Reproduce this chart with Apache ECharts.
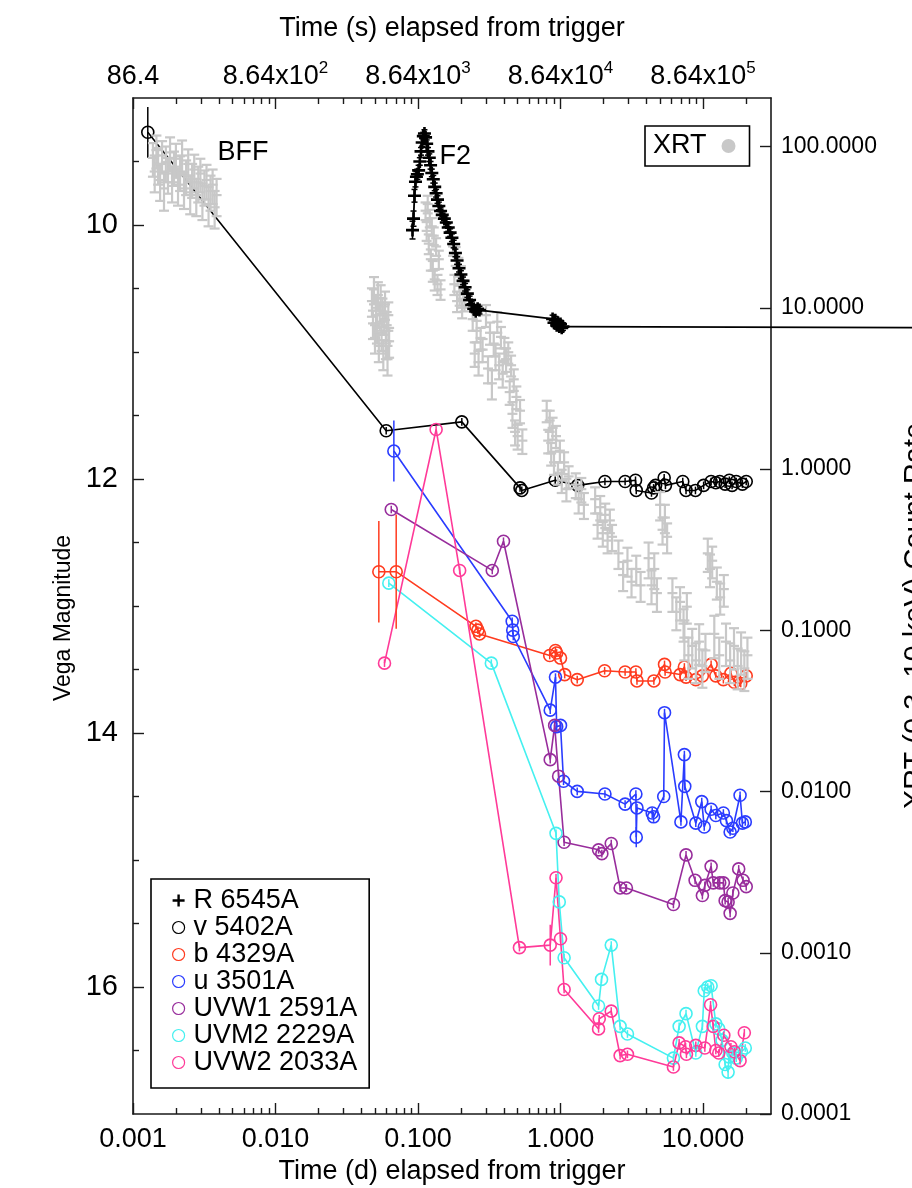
<!DOCTYPE html>
<html>
<head>
<meta charset="utf-8">
<script src="https://cdn.jsdelivr.net/npm/echarts@6/dist/echarts.min.js"></script>
<style>
  html, body { margin: 0; padding: 0; background: #ffffff; }
  #chart { width: 912px; height: 1188px; }
</style>
</head>
<body>
<div id="chart"></div>
<script>
// ---------------- axis ranges and tick labels ----------------
const dayRange = [0.001, 30];          // days since trigger (log axis)
const magRange = [9, 17];              // Vega magnitude (inverted)
const rateRange = [0.0001, 200];       // XRT count rate (log axis)

const dayTicks = [0.001, 0.01, 0.1, 1, 10];
const dayTickLabels = ['0.001', '0.010', '0.100', '1.000', '10.000'];
const secTickMantissa = ['86.4', '8.64x10', '8.64x10', '8.64x10', '8.64x10'];
const secTickPower = ['', '2', '3', '4', '5'];
const magTicks = [10, 12, 14, 16];
const magMinorTicks = [9.5, 10.5, 11, 11.5, 12.5, 13, 13.5, 14.5, 15, 15.5, 16.5];
const rateTicks = [0.0001, 0.001, 0.01, 0.1, 1, 10, 100];
const rateTickLabels = ['0.0001', '0.0010', '0.0100', '0.1000', '1.0000', '10.0000', '100.0000'];

// ---------------- photometry: [time (d), magnitude, error] ----------------
const rBand = [
  [0.0915, 10.04, 0.07], [0.0930, 9.95, 0.06], [0.0945, 9.77, 0.05], [0.0960, 9.66, 0.04],
  [0.0975, 9.62, 0.04], [0.0990, 9.60, 0.04], [0.1010, 9.57, 0.04], [0.1030, 9.50, 0.03],
  [0.1050, 9.42, 0.03], [0.1070, 9.35, 0.03], [0.1090, 9.30, 0.03], [0.1110, 9.28, 0.03],
  [0.1130, 9.31, 0.03], [0.1150, 9.36, 0.03], [0.1175, 9.42, 0.03], [0.1200, 9.47, 0.03],
  [0.1225, 9.53, 0.03], [0.1250, 9.59, 0.03], [0.1280, 9.64, 0.03], [0.1310, 9.70, 0.03],
  [0.1340, 9.75, 0.03], [0.1370, 9.80, 0.03], [0.1400, 9.85, 0.03], [0.1440, 9.89, 0.03],
  [0.1480, 9.92, 0.03], [0.1530, 9.95, 0.03], [0.1580, 9.98, 0.03], [0.1630, 10.02, 0.03],
  [0.1680, 10.06, 0.03], [0.1730, 10.10, 0.03], [0.1780, 10.15, 0.03], [0.1830, 10.22, 0.03],
  [0.1880, 10.28, 0.03], [0.1940, 10.34, 0.03], [0.2000, 10.39, 0.03], [0.2070, 10.44, 0.03],
  [0.2140, 10.49, 0.03], [0.2220, 10.54, 0.03], [0.2300, 10.59, 0.03], [0.2380, 10.63, 0.03],
  [0.2460, 10.66, 0.03], [0.2540, 10.68, 0.03], [0.2620, 10.66, 0.03], [0.2700, 10.67, 0.03],
  [0.880, 10.74, 0.03], [0.900, 10.77, 0.03], [0.920, 10.75, 0.03], [0.940, 10.79, 0.03],
  [0.960, 10.77, 0.03], [0.980, 10.80, 0.03], [1.000, 10.78, 0.03], [1.020, 10.81, 0.03],
  [1.040, 10.80, 0.03], [1000, 10.81, 0.03]
];

const vBand = [
  [0.00127, 9.27, 0.20], [0.0598, 11.62, 0.03], [0.203, 11.55, 0.03], [0.520, 12.07, 0.03],
  [0.535, 12.09, 0.03], [0.918, 12.01, 0.03], [1.32, 12.05, 0.03], [2.05, 12.02, 0.03],
  [2.84, 12.02, 0.03], [3.36, 12.01, 0.03], [3.40, 12.09, 0.03], [4.35, 12.11, 0.03],
  [4.50, 12.07, 0.03], [4.65, 12.05, 0.03], [5.34, 11.99, 0.03], [5.45, 12.05, 0.03],
  [7.21, 12.02, 0.03], [7.60, 12.09, 0.03], [8.85, 12.09, 0.03], [10.1, 12.05, 0.03],
  [11.4, 12.02, 0.03], [12.3, 12.03, 0.03], [13.1, 12.02, 0.03], [14.3, 12.04, 0.03],
  [15.3, 12.01, 0.03], [16.0, 12.05, 0.03], [17.1, 12.02, 0.03], [18.9, 12.04, 0.03],
  [20.1, 12.02, 0.03]
];

const bBand = [
  [0.0531, 12.73, 0.40], [0.0703, 12.73, 0.45], [0.255, 13.16, 0.03], [0.263, 13.19, 0.03],
  [0.270, 13.22, 0.03], [0.840, 13.39, 0.03], [0.922, 13.35, 0.03], [0.940, 13.37, 0.03],
  [1.00, 13.41, 0.03], [1.07, 13.54, 0.03], [1.31, 13.58, 0.03], [2.04, 13.51, 0.03],
  [2.84, 13.52, 0.03], [3.38, 13.52, 0.03], [3.44, 13.59, 0.03], [4.52, 13.59, 0.03],
  [5.37, 13.46, 0.03], [5.42, 13.52, 0.03], [6.90, 13.54, 0.03], [7.40, 13.48, 0.03],
  [7.60, 13.56, 0.03], [8.90, 13.58, 0.03], [9.90, 13.55, 0.03], [11.4, 13.46, 0.03],
  [12.3, 13.55, 0.03], [13.9, 13.58, 0.03], [15.7, 13.53, 0.03], [16.6, 13.60, 0.03],
  [18.4, 13.61, 0.03], [20.1, 13.55, 0.03]
];

const uBand = [
  [0.0677, 11.78, 0.24], [0.458, 13.12, 0.03], [0.462, 13.19, 0.03], [0.466, 13.24, 0.03],
  [0.847, 13.82, 0.03], [0.922, 13.56, 0.03], [0.940, 13.95, 0.03], [1.00, 13.94, 0.03],
  [1.05, 14.38, 0.03], [1.31, 14.46, 0.03], [2.05, 14.48, 0.03], [2.84, 14.56, 0.03],
  [3.38, 14.48, 0.03], [3.40, 14.82, 0.08], [3.44, 14.59, 0.03], [4.40, 14.63, 0.04],
  [4.50, 14.66, 0.04], [5.30, 14.50, 0.03], [5.37, 13.84, 0.03], [7.00, 14.70, 0.03],
  [7.40, 14.17, 0.03], [7.45, 14.42, 0.03], [8.90, 14.71, 0.03], [9.80, 14.54, 0.03],
  [10.2, 14.74, 0.03], [11.4, 14.60, 0.03], [12.3, 14.65, 0.03], [13.9, 14.63, 0.03],
  [14.6, 14.69, 0.03], [15.5, 14.78, 0.03], [16.2, 14.75, 0.03], [18.2, 14.49, 0.03],
  [18.9, 14.71, 0.03], [19.8, 14.70, 0.03]
];

const uvw1Band = [
  [0.0649, 12.24, 0.03], [0.332, 12.72, 0.03], [0.398, 12.49, 0.03], [0.847, 14.21, 0.03],
  [0.910, 13.94, 0.03], [0.970, 14.34, 0.03], [1.06, 14.86, 0.03], [1.85, 14.92, 0.03],
  [1.95, 14.95, 0.03], [2.27, 14.87, 0.03], [2.62, 15.22, 0.03], [2.90, 15.22, 0.03],
  [6.20, 15.35, 0.03], [7.60, 14.96, 0.03], [8.80, 15.16, 0.03], [9.90, 15.28, 0.03],
  [10.3, 15.20, 0.03], [11.4, 15.05, 0.03], [11.8, 15.18, 0.03], [13.1, 15.18, 0.03],
  [13.9, 15.18, 0.03], [14.3, 15.32, 0.03], [15.0, 15.33, 0.03], [15.5, 15.42, 0.03],
  [16.2, 15.26, 0.03], [17.8, 15.07, 0.03], [19.1, 15.16, 0.03], [20.1, 15.21, 0.03]
];

const uvm2Band = [
  [0.0624, 12.82, 0.03], [0.327, 13.45, 0.03], [0.930, 14.79, 0.03], [0.980, 15.33, 0.03],
  [1.06, 15.77, 0.03], [1.85, 16.15, 0.03], [1.94, 15.94, 0.03], [2.27, 15.67, 0.03],
  [2.62, 16.31, 0.03], [2.95, 16.37, 0.03], [6.20, 16.56, 0.03], [6.80, 16.31, 0.03],
  [7.60, 16.21, 0.03], [8.90, 16.52, 0.03], [9.90, 16.31, 0.03], [10.2, 16.03, 0.03],
  [10.8, 16.00, 0.03], [11.4, 15.99, 0.03], [12.3, 16.29, 0.03], [12.9, 16.33, 0.03],
  [13.6, 16.42, 0.03], [14.3, 16.61, 0.03], [15.0, 16.67, 0.05], [15.2, 16.55, 0.03],
  [16.2, 16.52, 0.03], [17.1, 16.56, 0.03], [18.6, 16.51, 0.03], [19.8, 16.48, 0.03]
];

const uvw2Band = [
  [0.0582, 13.45, 0.03], [0.134, 11.61, 0.03], [0.196, 12.72, 0.03], [0.515, 15.69, 0.03],
  [0.847, 15.67, 0.16], [0.930, 15.14, 0.03], [1.00, 15.62, 0.03], [1.06, 16.02, 0.03],
  [1.85, 16.33, 0.03], [1.87, 16.25, 0.03], [2.27, 16.19, 0.03], [2.62, 16.54, 0.03],
  [2.95, 16.53, 0.03], [6.20, 16.63, 0.03], [6.80, 16.44, 0.03], [7.55, 16.47, 0.03],
  [7.65, 16.53, 0.03], [8.90, 16.46, 0.03], [10.3, 16.48, 0.03], [11.3, 16.14, 0.03],
  [11.8, 16.31, 0.03], [12.3, 16.50, 0.03], [12.9, 16.52, 0.03], [14.0, 16.38, 0.03],
  [15.7, 16.47, 0.03], [16.6, 16.51, 0.03], [18.2, 16.58, 0.03], [19.5, 16.36, 0.03]
];

// ---------------- XRT 0.3-10 keV light curve ----------------
const xrtTime = [
  0.00138, 0.00142, 0.00146, 0.00150, 0.00155, 0.00160, 0.00165, 0.00170, 0.00176, 0.00182,
  0.00188, 0.00194, 0.00200, 0.00207, 0.00214, 0.00221, 0.00228, 0.00236, 0.00244, 0.00252,
  0.00260, 0.00269, 0.00278, 0.00287, 0.00297, 0.00307, 0.00317, 0.00328, 0.00339, 0.00350,
  0.00362, 0.00374, 0.00386,
  0.0475, 0.0483, 0.0491, 0.0499, 0.0507, 0.0515, 0.0523, 0.0531, 0.0539, 0.0547,
  0.0555, 0.0563, 0.0571, 0.0579, 0.0587, 0.0595, 0.0603, 0.0611, 0.0619, 0.0627,
  0.113, 0.115, 0.117, 0.119, 0.121, 0.123, 0.125, 0.127, 0.129, 0.131, 0.134, 0.137, 0.140, 0.144,
  0.176, 0.180, 0.184, 0.188, 0.192, 0.196, 0.200, 0.204, 0.208, 0.212,
  0.242, 0.250, 0.258, 0.266, 0.275, 0.284, 0.300, 0.310, 0.320, 0.330, 0.340, 0.350,
  0.360, 0.371, 0.382, 0.393, 0.404, 0.415,
  0.43, 0.44, 0.45, 0.46, 0.47, 0.48, 0.49, 0.50, 0.52, 0.54,
  0.80, 0.82, 0.84, 0.86, 0.88, 0.90, 0.93, 0.96, 0.99, 1.02, 1.06, 1.10, 1.14,
  1.28, 1.34, 1.40, 1.46,
  1.75, 1.82, 1.90, 1.98, 2.06, 2.14, 2.22, 2.30,
  2.55, 2.75, 2.95, 3.15, 3.40, 3.65,
  4.15, 4.35, 4.55, 4.75,
  5.00, 5.20, 5.40, 5.60,
  6.10, 6.50, 6.90, 7.30, 7.70,
  7.40, 7.90, 8.40, 8.90, 9.40, 9.90, 10.4,
  10.8, 11.2, 11.6,
  12.5, 13.2, 14.0,
  12.0, 13.0, 14.5, 15.5, 16.5, 17.5, 18.5, 19.5, 20.5
];
const xrtRate = [
  85, 70, 95, 78, 62, 88, 55, 80, 68, 92,
  60, 75, 84, 58, 70, 88, 55, 66, 78, 52,
  63, 72, 50, 60, 68, 47, 57, 62, 44, 53,
  58, 42, 50,
  11, 8, 13, 6.5, 10, 7.5, 12, 5.8, 9, 11.5,
  6.8, 9.5, 5.2, 8.5, 10.5, 6, 7.8, 4.8, 9, 6.2,
  40, 30, 44, 25, 36, 20, 32, 17, 28, 15, 24, 14, 20, 13,
  24, 14, 21, 11, 18, 12, 16, 10, 13, 11,
  8.5, 5.2, 7.2, 4.6, 6.5, 5.5, 9.0, 4.2, 7.0, 3.4, 6.0, 5.0,
  8.2, 4.4, 6.6, 3.9, 5.6, 4.8,
  5.3, 3.0, 4.4, 2.2, 3.6, 1.7, 2.8, 1.6, 2.3, 1.5,
  2.3, 1.5, 2.0, 1.25, 1.8, 1.1, 1.6, 0.95, 1.3, 0.85, 1.1, 0.75, 0.90,
  0.80, 0.65, 0.75, 0.60,
  0.65, 0.45, 0.58, 0.40, 0.52, 0.36, 0.48, 0.38,
  0.30, 0.22, 0.27, 0.20, 0.24, 0.19,
  0.28, 0.19, 0.24, 0.17,
  0.60, 0.42, 0.50, 0.38,
  0.17, 0.13, 0.15, 0.11, 0.14,
  0.090, 0.070, 0.080, 0.065, 0.085, 0.060, 0.075,
  0.30, 0.24, 0.27,
  0.20, 0.16, 0.18,
  0.095, 0.070, 0.085, 0.065, 0.080, 0.060, 0.075, 0.058, 0.070
];
const xrtErr = [
  20, 18, 22, 20, 16, 20, 15, 20, 17, 22,
  15, 18, 20, 15, 17, 21, 14, 16, 18, 14,
  15, 17, 13, 15, 16, 12, 14, 15, 12, 13,
  14, 11, 13,
  2.2, 1.6, 2.5, 1.3, 2.0, 1.5, 2.4, 1.2, 1.8, 2.3,
  1.4, 1.9, 1.1, 1.7, 2.1, 1.2, 1.6, 1.0, 1.8, 1.3,
  5, 4, 5.5, 3.5, 4.5, 3, 4, 2.5, 3.5, 2.2, 3, 2, 2.6, 1.8,
  3, 2, 2.8, 1.6, 2.4, 1.7, 2.1, 1.4, 1.8, 1.5,
  1.3, 0.9, 1.1, 0.8, 1.0, 0.9, 1.4, 0.8, 1.1, 0.7, 1.0, 0.9,
  1.2, 0.8, 1.0, 0.7, 0.9, 0.8,
  0.80, 0.50, 0.65, 0.40, 0.55, 0.30, 0.45, 0.28, 0.38, 0.26,
  0.35, 0.25, 0.30, 0.20, 0.28, 0.18, 0.25, 0.15, 0.20, 0.14, 0.17, 0.12, 0.14,
  0.14, 0.12, 0.13, 0.11,
  0.12, 0.08, 0.10, 0.07, 0.09, 0.06, 0.08, 0.07,
  0.06, 0.045, 0.055, 0.04, 0.05, 0.04,
  0.07, 0.045, 0.06, 0.04,
  0.12, 0.08, 0.10, 0.08,
  0.04, 0.03, 0.035, 0.025, 0.03,
  0.025, 0.020, 0.022, 0.018, 0.024, 0.016, 0.020,
  0.07, 0.055, 0.06,
  0.045, 0.035, 0.04,
  0.028, 0.020, 0.025, 0.018, 0.023, 0.017, 0.022, 0.016, 0.020
];

// flare labels: [time (d), magnitude, text]
const flareNotes = [[0.00392, 9.43, 'BFF'], [0.1414, 9.46, 'F2']];

// ---------------- styling ----------------
const FONT = "'Liberation Sans', Arial, Helvetica, sans-serif";
const COLORS = {
  R: '#000000', v: '#000000', b: '#ff3b1f', u: '#2a3cff',
  uvw1: '#982d9c', uvm2: '#45f0f0', uvw2: '#ff3a98', xrt: '#c8c8c8'
};
const AXIS_COLOR = '#1a1a1a';
const PLUS_PATH = 'path://M4,0H6V4H10V6H6V10H4V6H0V4H4Z';

const lg = Math.log10;

function minorPositions(lo, hi) {
  const out = [];
  for (let d = Math.floor(lg(lo)); d <= Math.ceil(lg(hi)); d++) {
    for (let k = 2; k <= 9; k++) {
      const v = k * Math.pow(10, d);
      if (v > lo && v < hi) out.push(lg(v));
    }
  }
  return out;
}

// vertical error bar with optional end caps and a short centre bar
function errorBarItem(color, lineWidth, cap, centre) {
  return function (params, api) {
    const x = api.value(0);
    const pc = api.coord([x, api.value(1)]);
    const p1 = api.coord([x, api.value(2)]);
    const p2 = api.coord([x, api.value(3)]);
    const style = { stroke: color, lineWidth: lineWidth };
    const kids = [{ type: 'line', shape: { x1: p1[0], y1: p1[1], x2: p2[0], y2: p2[1] }, style }];
    if (cap > 0) {
      kids.push({ type: 'line', shape: { x1: p1[0] - cap, y1: p1[1], x2: p1[0] + cap, y2: p1[1] }, style });
      kids.push({ type: 'line', shape: { x1: p2[0] - cap, y1: p2[1], x2: p2[0] + cap, y2: p2[1] }, style });
    }
    if (centre > 0) {
      kids.push({ type: 'line', shape: { x1: pc[0] - centre, y1: pc[1], x2: pc[0] + centre, y2: pc[1] }, style });
    }
    return { type: 'group', children: kids };
  };
}

function magErrorSeries(name, band, color, cap) {
  return {
    name, type: 'custom', xAxisIndex: 0, yAxisIndex: 0, silent: true, z: 4,
    renderItem: errorBarItem(color, 1.5, cap, 0),
    data: band.map(p => [lg(p[0]), p[1], p[1] - p[2], p[1] + p[2]])
  };
}

function magLineSeries(name, band, color) {
  return {
    name, type: 'line', xAxisIndex: 0, yAxisIndex: 0, z: 3,
    data: band.map(p => [lg(p[0]), p[1]]),
    symbol: 'circle', symbolSize: 12, showAllSymbol: true,
    itemStyle: { color: 'rgba(255,255,255,0)', borderColor: color, borderWidth: 1.6 },
    lineStyle: { color: color, width: 1.6 },
    emphasis: { disabled: true }
  };
}

const uvotSets = [
  ['v 5402A', vBand, COLORS.v],
  ['b 4329A', bBand, COLORS.b],
  ['u 3501A', uBand, COLORS.u],
  ['UVW1 2591A', uvw1Band, COLORS.uvw1],
  ['UVM2 2229A', uvm2Band, COLORS.uvm2],
  ['UVW2 2033A', uvw2Band, COLORS.uvw2]
];

const series = [];
uvotSets.forEach(s => {
  series.push(magLineSeries(s[0], s[1], s[2]));
  series.push(magErrorSeries(s[0], s[1], s[2], 0));
});

// XRT count rates on the right-hand axis
series.push({
  name: 'XRT', type: 'custom', xAxisIndex: 0, yAxisIndex: 2, silent: true, z: 5,
  renderItem: errorBarItem(COLORS.xrt, 2.2, 5, 5),
  data: xrtTime.map((t, i) => {
    const r = xrtRate[i], e = xrtErr[i];
    const lo = Math.max(r - e, r * 0.2);
    return [lg(t), lg(r), lg(lo), lg(r + e)];
  })
});

// R band: connecting segments (not clipped, the last one runs off the frame)
series.push({
  name: 'R 6545A', type: 'custom', xAxisIndex: 0, yAxisIndex: 0, z: 6, silent: true, clip: false,
  data: rBand.slice(1).map((p, i) => [lg(rBand[i][0]), rBand[i][1], lg(p[0]), p[1]]),
  renderItem: function (params, api) {
    const a = api.coord([api.value(0), api.value(1)]);
    const b = api.coord([api.value(2), api.value(3)]);
    return {
      type: 'line', shape: { x1: a[0], y1: a[1], x2: b[0], y2: b[1] },
      style: { stroke: COLORS.R, lineWidth: 1.8 }
    };
  }
});
series.push({
  name: 'R 6545A', type: 'scatter', xAxisIndex: 0, yAxisIndex: 0, z: 6,
  data: rBand.map(p => [lg(p[0]), p[1]]),
  symbol: PLUS_PATH, symbolSize: 13,
  itemStyle: { color: COLORS.R, opacity: 1 },
  emphasis: { disabled: true }
});
series.push(Object.assign(magErrorSeries('R 6545A', rBand, COLORS.R, 3), { z: 6 }));

// flare labels placed in data coordinates
series.push({
  name: 'flare labels', type: 'custom', xAxisIndex: 0, yAxisIndex: 0, z: 7, silent: true,
  data: flareNotes.map(n => [lg(n[0]), n[1]]),
  renderItem: function (params, api) {
    const p = api.coord([api.value(0), api.value(1)]);
    return {
      type: 'text', x: p[0], y: p[1],
      style: {
        text: flareNotes[params.dataIndex][2], fill: '#000000',
        font: '27px ' + FONT, textAlign: 'left', textVerticalAlign: 'middle'
      }
    };
  }
});

const xMin = lg(dayRange[0]), xMax = lg(dayRange[1]);
const yRMin = lg(rateRange[0]), yRMax = lg(rateRange[1]);
const dayMajor = dayTicks.map(lg);
const dayMinor = minorPositions(dayRange[0], dayRange[1]);
const rateMajor = rateTicks.map(lg);

const axisLineStyle = { show: true, onZero: false, lineStyle: { color: AXIS_COLOR, width: 1.6 } };
const hiddenLine = { show: false, onZero: false };
const tickStyle = { color: AXIS_COLOR, width: 1.4 };

function labelIndex(list, v) {
  for (let i = 0; i < list.length; i++) if (Math.abs(list[i] - v) < 1e-6) return i;
  return -1;
}

const option = {
  animation: false,
  backgroundColor: '#ffffff',
  textStyle: { fontFamily: FONT },
  grid: { left: 133, right: 141, top: 98, bottom: 74, containLabel: false, outerBoundsMode: 'none' },
  xAxis: [
    {
      type: 'value', position: 'bottom', min: xMin, max: xMax,
      axisLine: axisLineStyle,
      axisTick: { show: true, inside: true, length: 11, customValues: dayMajor, lineStyle: tickStyle },
      axisLabel: {
        show: true, customValues: dayMajor, margin: 12, fontSize: 27, color: '#000', fontFamily: FONT,
        formatter: v => dayTickLabels[labelIndex(dayMajor, v)]
      },
      splitLine: { show: false },
      name: 'Time (d) elapsed from trigger', nameLocation: 'middle', nameGap: 40,
      nameTextStyle: { fontSize: 27, color: '#000', fontFamily: FONT }
    },
    {
      type: 'value', position: 'bottom', min: xMin, max: xMax,
      axisLine: hiddenLine,
      axisTick: { show: true, inside: true, length: 6, customValues: dayMinor, lineStyle: tickStyle },
      axisLabel: { show: false }, splitLine: { show: false }
    },
    {
      type: 'value', position: 'top', min: xMin, max: xMax,
      axisLine: axisLineStyle,
      axisTick: { show: true, inside: true, length: 11, customValues: dayMajor, lineStyle: tickStyle },
      axisLabel: {
        show: true, customValues: dayMajor, margin: 8, color: '#000', fontFamily: FONT,
        formatter: v => {
          const i = labelIndex(dayMajor, v);
          return secTickPower[i] ? '{m|' + secTickMantissa[i] + '}{p|' + secTickPower[i] + '}'
                                 : '{m|' + secTickMantissa[i] + '}';
        },
        rich: {
          m: { fontSize: 27, fontFamily: FONT, color: '#000', lineHeight: 30, verticalAlign: 'bottom' },
          p: { fontSize: 17, fontFamily: FONT, color: '#000', lineHeight: 17, verticalAlign: 'top' }
        }
      },
      splitLine: { show: false },
      name: 'Time (s) elapsed from trigger', nameLocation: 'middle', nameGap: 56,
      nameTextStyle: { fontSize: 27, color: '#000', fontFamily: FONT }
    },
    {
      type: 'value', position: 'top', min: xMin, max: xMax,
      axisLine: hiddenLine,
      axisTick: { show: true, inside: true, length: 6, customValues: dayMinor, lineStyle: tickStyle },
      axisLabel: { show: false }, splitLine: { show: false }
    }
  ],
  yAxis: [
    {
      type: 'value', position: 'left', inverse: true, min: magRange[0], max: magRange[1],
      axisLine: axisLineStyle,
      axisTick: { show: true, inside: true, length: 11, customValues: magTicks, lineStyle: tickStyle },
      axisLabel: {
        show: true, customValues: magTicks, margin: 15, fontSize: 29, color: '#000', fontFamily: FONT,
        formatter: v => String(v)
      },
      splitLine: { show: false },
      name: 'Vega Magnitude', nameLocation: 'middle', nameGap: 56, nameRotate: 90,
      nameTextStyle: { fontSize: 23, color: '#000', fontFamily: FONT, padding: [0, 24, 0, 0] }
    },
    {
      type: 'value', position: 'left', inverse: true, min: magRange[0], max: magRange[1],
      axisLine: hiddenLine,
      axisTick: { show: true, inside: true, length: 6, customValues: magMinorTicks, lineStyle: tickStyle },
      axisLabel: { show: false }, splitLine: { show: false }
    },
    {
      type: 'value', position: 'right', min: yRMin, max: yRMax,
      axisLine: axisLineStyle,
      axisTick: { show: true, inside: true, length: 11, customValues: rateMajor, lineStyle: tickStyle },
      axisLabel: {
        show: true, customValues: rateMajor, margin: 10, fontSize: 23, color: '#000', fontFamily: FONT,
        formatter: v => rateTickLabels[labelIndex(rateMajor, v)]
      },
      splitLine: { show: false },
      name: 'XRT (0.3–10 keV) Count Rate', nameLocation: 'middle', nameGap: 130, nameRotate: 90,
      nameTextStyle: { fontSize: 29, color: '#000', fontFamily: FONT, padding: [0, 20, 0, 0] }
    }
  ],
  legend: [
    {
      orient: 'vertical', left: 151, top: 879,
      padding: [8, 12, 12, 21], itemGap: 0, itemWidth: 12, itemHeight: 12,
      borderColor: '#000', borderWidth: 1.6, backgroundColor: '#fff',
      selectedMode: false,
      textStyle: { fontSize: 27, lineHeight: 27, color: '#000', fontFamily: FONT, padding: [0, 0, 0, 4] },
      data: [
        { name: 'R 6545A', icon: PLUS_PATH, itemStyle: { color: COLORS.R, borderWidth: 0 } },
        { name: 'v 5402A', icon: 'circle', itemStyle: { color: '#fff', borderColor: COLORS.v, borderWidth: 1.2 } },
        { name: 'b 4329A', icon: 'circle', itemStyle: { color: '#fff', borderColor: COLORS.b, borderWidth: 1.2 } },
        { name: 'u 3501A', icon: 'circle', itemStyle: { color: '#fff', borderColor: COLORS.u, borderWidth: 1.2 } },
        { name: 'UVW1 2591A', icon: 'circle', itemStyle: { color: '#fff', borderColor: COLORS.uvw1, borderWidth: 1.2 } },
        { name: 'UVM2 2229A', icon: 'circle', itemStyle: { color: '#fff', borderColor: COLORS.uvm2, borderWidth: 1.2 } },
        { name: 'UVW2 2033A', icon: 'circle', itemStyle: { color: '#fff', borderColor: COLORS.uvw2, borderWidth: 1.2 } }
      ]
    },
    {
      orient: 'horizontal', left: 645, top: 126, align: 'right',
      padding: [6, 14, 6, 8], itemWidth: 14, itemHeight: 14,
      borderColor: '#000', borderWidth: 1.6, backgroundColor: '#fff',
      selectedMode: false,
      textStyle: { fontSize: 27, lineHeight: 28, color: '#000', fontFamily: FONT, padding: [0, 10, 0, 0] },
      data: [{ name: 'XRT', icon: 'circle', itemStyle: { color: COLORS.xrt, borderWidth: 0 } }]
    }
  ],
  series: series
};

const chart = echarts.init(document.getElementById('chart'), null, { renderer: 'canvas', width: 912, height: 1188 });
chart.setOption(option);
</script>
</body>
</html>
